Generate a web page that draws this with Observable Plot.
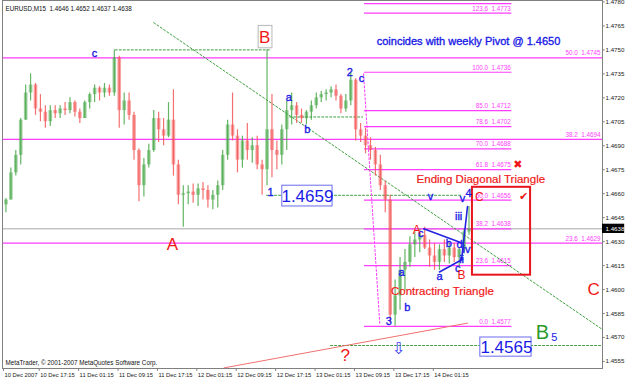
<!DOCTYPE html>
<html><head><meta charset="utf-8">
<script src="https://cdn.jsdelivr.net/npm/d3@7"></script>
<script src="https://cdn.jsdelivr.net/npm/@observablehq/plot@0.6"></script>
<style>
html,body{margin:0;padding:0;background:#fff;}
#chart svg{display:block;}
</style>
</head><body><div id="chart"></div>
<script>
// ---- hourly candles (hours since 10 Dec 2007 10:00) ----
const openP = [1.4653,1.4656,1.4673,1.4684,1.4706,1.4723,1.4728,1.4713,1.4711,1.4705,
1.4712,1.4710,1.4713,1.4712,1.4717,1.4711,1.4707,1.4717,1.4722,1.4726,
1.4723,1.4726,1.4723,1.4745,1.4712,1.4718,1.4709,1.4687,1.4665,1.4678,
1.4687,1.4707,1.4700,1.4696,1.4706,1.4678,1.4659,1.4660,1.4661,1.4659,
1.4663,1.4662,1.4656,1.4659,1.4665,1.4684,1.4703,1.4696,1.4681,1.4693,
1.4687,1.4690,1.4678,1.4675,1.4700,1.4687,1.4684,1.4700,1.4712,1.4715,
1.4709,1.4707,1.4711,1.4715,1.4720,1.4722,1.4723,1.4725,1.4721,1.4713,
1.4718,1.4731,1.4700,1.4696,1.4690,1.4687,1.4678,1.4665,1.4656,1.4584,
1.4596,1.4612,1.4617,1.4628,1.4631,1.4634,1.4626,1.4621,1.4617,1.4625,
1.4621,1.4626,1.4620,1.4625,1.4636];
const highP = [1.4657,1.4676,1.4687,1.4707,1.4728,1.4735,1.4729,1.4722,1.4715,1.4715,
1.4715,1.4715,1.4717,1.4720,1.4718,1.4713,1.4718,1.4723,1.4728,1.4727,
1.4729,1.4728,1.4750,1.4746,1.4723,1.4723,1.4711,1.4688,1.4682,1.4691,
1.4712,1.4711,1.4707,1.4717,1.4725,1.4681,1.4665,1.4665,1.4666,1.4666,
1.4667,1.4665,1.4662,1.4668,1.4687,1.4706,1.4723,1.4700,1.4696,1.4704,
1.4695,1.4696,1.4681,1.4750,1.4722,1.4693,1.4703,1.4718,1.4723,1.4717,
1.4713,1.4712,1.4718,1.4723,1.4724,1.4725,1.4727,1.4728,1.4722,1.4722,
1.4736,1.4732,1.4704,1.4701,1.4695,1.4689,1.4684,1.4668,1.4659,1.4606,
1.4620,1.4625,1.4633,1.4636,1.4638,1.4639,1.4631,1.4629,1.4628,1.4631,
1.4629,1.4629,1.4626,1.4638,1.4652];
const lowP = [1.4648,1.4656,1.4671,1.4678,1.4706,1.4718,1.4709,1.4705,1.4701,1.4702,
1.4707,1.4707,1.4709,1.4710,1.4708,1.4704,1.4707,1.4713,1.4717,1.4718,
1.4720,1.4721,1.4721,1.4701,1.4703,1.4706,1.4681,1.4655,1.4658,1.4676,
1.4686,1.4692,1.4690,1.4695,1.4671,1.4653,1.4639,1.4653,1.4654,1.4652,
1.4656,1.4651,1.4650,1.4651,1.4662,1.4681,1.4693,1.4673,1.4676,1.4681,
1.4679,1.4675,1.4659,1.4665,1.4670,1.4675,1.4678,1.4687,1.4703,1.4704,
1.4704,1.4703,1.4706,1.4713,1.4717,1.4718,1.4720,1.4718,1.4710,1.4711,
1.4715,1.4693,1.4692,1.4685,1.4681,1.4671,1.4662,1.4648,1.4579,1.4577,
1.4587,1.4599,1.4614,1.4620,1.4623,1.4625,1.4614,1.4612,1.4612,1.4617,
1.4616,1.4617,1.4614,1.4623,1.4634];
const closeP = [1.4656,1.4673,1.4684,1.4706,1.4723,1.4728,1.4713,1.4711,1.4705,1.4712,
1.4710,1.4713,1.4712,1.4717,1.4711,1.4707,1.4717,1.4722,1.4726,1.4723,
1.4726,1.4723,1.4745,1.4712,1.4718,1.4709,1.4687,1.4665,1.4678,1.4687,
1.4707,1.4700,1.4696,1.4706,1.4678,1.4659,1.4660,1.4661,1.4659,1.4663,
1.4662,1.4656,1.4659,1.4665,1.4684,1.4703,1.4696,1.4681,1.4693,1.4687,
1.4690,1.4678,1.4675,1.4700,1.4687,1.4684,1.4700,1.4712,1.4715,1.4709,
1.4707,1.4711,1.4715,1.4720,1.4722,1.4723,1.4725,1.4721,1.4713,1.4718,
1.4731,1.4700,1.4696,1.4690,1.4687,1.4678,1.4665,1.4656,1.4584,1.4596,
1.4612,1.4617,1.4628,1.4631,1.4634,1.4626,1.4621,1.4617,1.4625,1.4621,
1.4626,1.4620,1.4625,1.4636,1.4638];

// ---- axes ----
const xTickHours = [0,7.25,15.25,23.25,31.25,39.25,47.25,55.25,63.25,71.25,79.25,87.25];
const xTickLabels = ["10 Dec 2007","10 Dec 17:15","11 Dec 01:15","11 Dec 09:15","11 Dec 17:15","12 Dec 01:15","12 Dec 09:15","12 Dec 17:15","13 Dec 01:15","13 Dec 09:15","13 Dec 17:15","14 Dec 01:15"];
const yTicks = [1.4555,1.4570,1.4585,1.4600,1.4615,1.4630,1.4645,1.4660,1.4675,1.4690,1.4705,1.4720,1.4735,1.4750,1.4765,1.4780];
const lastPrice = 1.4638;
const titleText = "EURUSD,M15  1.4646 1.4652 1.4637 1.4638";
const copyrightText = "MetaTrader, © 2001-2007 MetaQuotes Software Corp.";

// ---- Fibonacci levels ----
const fibShortLevels = [1.4779,1.4773,1.4736,1.4712,1.4702,1.4688,1.4675,1.4656,1.4638,1.4615,1.4577];
const fibShortLabels = ["","123.6  1.4773","100.0  1.4736","85.0  1.4712","78.6  1.4702","70.0  1.4688","61.8  1.4675","50.0  1.4656","38.2  1.4638","23.6  1.4615","0.0  1.4577"];
const fibShortSpan = [73.3,103.2];
const fibLongLevels = [1.4745,1.4694,1.4629];
const fibLongLabels = ["50.0  1.4745","38.2  1.4694","23.6  1.4629"];

// ---- annotation lines (hour, price) ----
const greenDotted = [
  [[22.7,1.4750],[54.0,1.4750]],
  [[30.5,1.4767],[121.6,1.4575]],
  [[58.1,1.4708],[72.9,1.4708]],
  [[53.4,1.4659],[92.8,1.4659]],
  [[66.4,1.4565],[121.6,1.4565]]
];
const magentaDotted = [
  [[73.1,1.4735],[76.4,1.4578]]
];
const redTrend = [[44.8,1.4551],[94.2,1.4579]];
const blueTriangle = [
  [[85.3,1.4638],[93.2,1.4629]],
  [[88.5,1.4611],[93.2,1.4619]],
  [[93.0,1.4619],[94.2,1.4652]]
];
const triangleBox = {t1:95.2,t2:107.0,p1:1.4664,p2:1.4609};

// ---- wave labels ----
const blueLabels = ["c","a","b","2","c","1","v","4","v","iii","c","b","d","iv","ii","c","a","a","b","3"];
const blueT = [18.5,57.9,61.7,70.3,72.7,54.2,86.7,94.4,93.2,92.4,84.7,90.4,92.6,94.0,93.0,92.2,88.5,80.8,82.0,78.2];
const blueP = [1.4748,1.4720,1.4700,1.4736,1.4732,1.4661,1.4658,1.4660,1.4657,1.4646,1.4635,1.4629,1.4628,1.4625,1.4619,1.4613,1.4608,1.4611,1.4589,1.4580];
const redBigLabels = ["B","A","C","?"];
const redBigT = [53.0,34.3,119.8,69.4];
const redBigP = [1.4758,1.4628,1.4600,1.4559];
const redSmallLabels = ["A","C","B"];
const redSmallT = [83.9,96.6,93.0];
const redSmallP = [1.4637,1.4658,1.4609];
const notes = ["Ending Diagonal Triangle","Contracting Triangle"];
const notesT = [96.9,89.1];
const notesP = [1.4669,1.4599];
const pivotNote = "coincides with weekly Pivot @ 1.4650";
const pivotT = 94.4, pivotP = 1.4755;
const boxedLevels = ["1.4659","1.4565"];
const boxedT = [61.7,102.1];
const boxedP = [1.4658,1.4564];
const boxedRect = [{t1:56.6,t2:66.8,p1:1.4665,p2:1.4652},{t1:96.8,t2:107.2,p1:1.4570,p2:1.4558}];
const bBox = {t1:51.8,t2:54.6,p1:1.4765,p2:1.4751};
const greenB = {label:"B",t:109.4,p:1.4573};
const subFive = {label:"5",t:111.8,p:1.4570};
const crossMark = {label:"✖",t:104.4,p:1.4678};
const checkMark = {label:"✔",t:105.6,p:1.4658};
const arrowMark = {label:"⇩",t:80.2,p:1.4563};

// ---- build ----
const candles = openP.map((o,i)=>({t:i+0.5,o,h:highP[i],l:lowP[i],c:closeP[i]}));
const xDomain=[-0.2,121.6], yDomain=[1.45506,1.47809];
const xR = xDomain[1];
const lineRows = (segs)=>segs.flatMap((s,k)=>s.map(([t,p])=>({t,p,k})));
const FONT = "Liberation Sans, Arial, sans-serif";
const MAG = "#ff3cff";
const BLUE = "#1a1ae6", RED = "#f01818";
const upC = "#48a848", dnC = "#f25656";

const plot = Plot.plot({
  width:625, height:380, marginLeft:2, marginRight:23, marginTop:0, marginBottom:12,
  x:{domain:xDomain, axis:null},
  y:{domain:yDomain, axis:null},
  style:{fontFamily:FONT, background:"#fff", overflow:"visible"},
  marks:[
    // long fib lines
    Plot.ruleY(fibLongLevels,{x1:xDomain[0],x2:xR,stroke:MAG,strokeWidth:1.3}),
    Plot.text(fibLongLevels,{x:xR-0.4,y:d=>d,text:(d,i)=>fibLongLabels[i],textAnchor:"end",dy:-4.5,fill:MAG,fontSize:6.3}),
    // current price line
    Plot.ruleY([lastPrice],{x1:xDomain[0],x2:xR,stroke:"#a8a8a8",strokeWidth:1}),
    // short fib lines
    Plot.ruleY(fibShortLevels,{x1:fibShortSpan[0],x2:fibShortSpan[1],stroke:MAG,strokeWidth:1.2}),
    Plot.text(fibShortLevels,{x:fibShortSpan[1]-0.2,y:d=>d,text:(d,i)=>fibShortLabels[i],textAnchor:"end",dy:-4.5,fill:MAG,fontSize:6.3}),
    // dotted lines
    Plot.line(lineRows(greenDotted),{x:"t",y:"p",z:"k",stroke:"#3f9f3f",strokeWidth:1,strokeDasharray:"2,2"}),
    Plot.line(lineRows(magentaDotted),{x:"t",y:"p",z:"k",stroke:MAG,strokeWidth:1,strokeDasharray:"2,2"}),
    Plot.line(redTrend.map(([t,p])=>({t,p})),{x:"t",y:"p",stroke:"#f07070",strokeWidth:1}),
    // candles
    Plot.ruleX(candles,{x:"t",y1:"l",y2:"h",stroke:d=>d.c>=d.o?upC:dnC,strokeWidth:1.2,strokeOpacity:0.85}),
    Plot.ruleX(candles,{x:"t",y1:"o",y2:"c",stroke:d=>d.c>=d.o?upC:dnC,strokeWidth:3.6,strokeOpacity:0.55}),
    // triangle lines
    Plot.line(lineRows(blueTriangle),{x:"t",y:"p",z:"k",stroke:"#2323e0",strokeWidth:1.6}),
    // red box
    Plot.rect([triangleBox],{x1:"t1",x2:"t2",y1:"p1",y2:"p2",fill:"none",stroke:"#e8141e",strokeWidth:2}),
    // boxes for boxed numbers
    Plot.rect(boxedRect,{x1:"t1",x2:"t2",y1:"p1",y2:"p2",fill:"#fff",stroke:"#6b6bf0",strokeWidth:1}),
    Plot.rect([bBox],{x1:"t1",x2:"t2",y1:"p1",y2:"p2",fill:"#fff",stroke:"#b8b8b8",strokeWidth:1}),
    Plot.text(boxedLevels,{x:(d,i)=>boxedT[i],y:(d,i)=>boxedP[i],text:d=>d,fill:BLUE,fontSize:17}),
    // labels
    Plot.text(blueLabels,{x:(d,i)=>blueT[i],y:(d,i)=>blueP[i],text:d=>d,fill:BLUE,stroke:BLUE,strokeWidth:0.35,fontSize:11}),
    Plot.text(redBigLabels,{x:(d,i)=>redBigT[i],y:(d,i)=>redBigP[i],text:d=>d,fill:RED,fontSize:17}),
    Plot.text(redSmallLabels,{x:(d,i)=>redSmallT[i],y:(d,i)=>redSmallP[i],text:d=>d,fill:RED,fontSize:12}),
    Plot.text(notes,{x:(d,i)=>notesT[i],y:(d,i)=>notesP[i],text:d=>d,fill:RED,stroke:RED,strokeWidth:0.2,fontSize:11.5}),
    Plot.text([pivotNote],{x:pivotT,y:pivotP,text:d=>d,fill:BLUE,stroke:BLUE,strokeWidth:0.35,fontSize:11}),
    Plot.text([greenB],{x:"t",y:"p",text:"label",fill:"#2e9a2e",fontSize:20}),
    Plot.text([subFive],{x:"t",y:"p",text:"label",fill:BLUE,fontSize:11}),
    Plot.text([crossMark,checkMark],{x:"t",y:"p",text:"label",fill:RED,fontSize:11,fontFamily:"DejaVu Sans"}),
    Plot.text([arrowMark],{x:"t",y:"p",text:"label",fill:"#3a3af0",fontSize:16,fontFamily:"DejaVu Sans"}),
    // frame and axes
    Plot.frame({stroke:"#808080"}),
    Plot.ruleY(yTicks,{x1:xR,x2:xR+0.55,stroke:"#808080"}),
    Plot.text(yTicks,{x:xR,y:d=>d,text:d=>d.toFixed(4),textAnchor:"start",dx:3,fontSize:6.2,fill:"#222"}),
    Plot.ruleX(xTickHours,{y1:yDomain[0],y2:yDomain[0]-0.00018,stroke:"#808080"}),
    Plot.text(xTickHours,{x:d=>d,y:yDomain[0],text:(d,i)=>xTickLabels[i],textAnchor:"start",dx:1,dy:7,fontSize:5.8,fill:"#222"}),
    Plot.rect([lastPrice],{x1:xR,x2:xR+4.5,y1:d=>d-0.00029,y2:d=>d+0.00029,fill:"#000"}),
    Plot.text([lastPrice],{x:xR,y:d=>d,text:d=>d.toFixed(4),textAnchor:"start",dx:3,fontSize:6.2,fill:"#fff"}),
    Plot.text([titleText],{frameAnchor:"top-left",text:d=>d,dx:3,dy:6,fontSize:6.3,fill:"#111"}),
    Plot.text([copyrightText],{frameAnchor:"bottom-left",text:d=>d,dx:3,dy:-4,fontSize:6.3,fill:"#111"})
  ]
});
document.getElementById("chart").appendChild(plot);
</script>
</body></html>
